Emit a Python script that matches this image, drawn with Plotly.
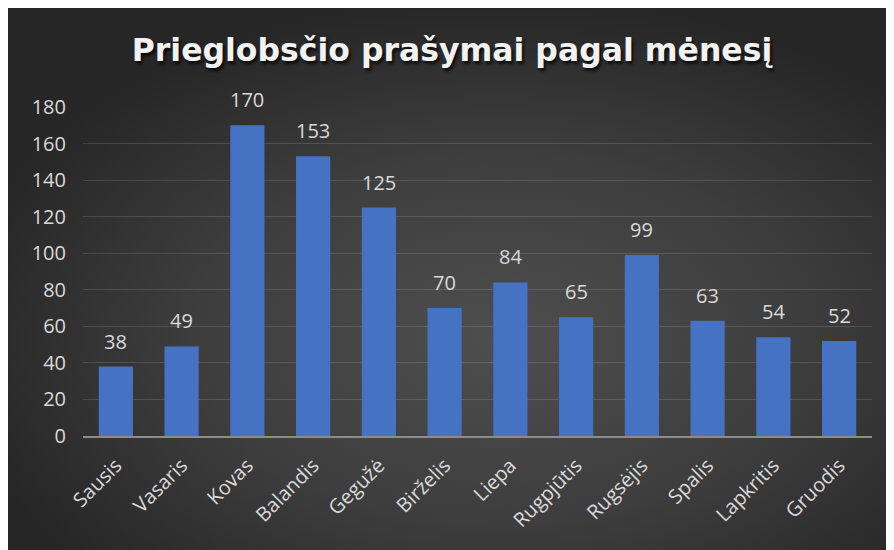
import base64
import plotly.graph_objects as go

months = ["Sausis", "Vasaris", "Kovas", "Balandis", "Gegužė", "Birželis",
          "Liepa", "Rugpjūtis", "Rugsėjis", "Spalis", "Lapkritis", "Gruodis"]
requests = [38, 49, 170, 153, 125, 70, 84, 65, 99, 63, 54, 52]
y_ticks = [0, 20, 40, 60, 80, 100, 120, 140, 160, 180]
title_text = "Prieglobsčio prašymai pagal mėnesį"

W, H = 894, 550
ML, MR, MT, MB = 75, 30, 99, 122
pw = W - ML - MR
ph = H - MT - MB

# dark radial gradient background (Excel style) as an inline SVG image
svg = f'''<svg xmlns="http://www.w3.org/2000/svg" width="{W}" height="{H}" viewBox="0 0 {W} {H}" preserveAspectRatio="none">
<defs><radialGradient id="g" cx="0.55" cy="0.6" r="0.62" gradientUnits="objectBoundingBox">
<stop offset="0" stop-color="#4e4e4e"/><stop offset="0.55" stop-color="#3d3d3d"/><stop offset="1" stop-color="#262626"/>
</radialGradient></defs>
<rect x="0" y="0" width="{W}" height="{H}" fill="url(#g)"/></svg>'''
src = "data:image/svg+xml;base64," + base64.b64encode(svg.encode()).decode()

fig = go.Figure()
fig.add_trace(go.Bar(
    x=months, y=requests,
    marker=dict(color="#4672c4", line=dict(width=0)),
    hoverinfo="x+y",
))

for m, v in zip(months, requests):
    fig.add_annotation(x=m, y=v, text=str(v), showarrow=False, yanchor="bottom",
                       yshift=10, font=dict(family="Open Sans", size=20, color="#d9d9d9"))

fig.add_layout_image(dict(
    source=src, xref="paper", yref="paper",
    x=-ML / pw, y=1 + MT / ph,
    sizex=W / pw, sizey=H / ph,
    xanchor="left", yanchor="top", sizing="stretch", layer="below",
))

fig.update_layout(
    width=W, height=H,
    margin=dict(l=ML, r=MR, t=MT, b=MB),
    paper_bgcolor="#2a2a2a", plot_bgcolor="rgba(0,0,0,0)",
    bargap=0.48, showlegend=False,
    title=dict(text=title_text, x=444 / W, xanchor="center", y=1 - 42 / H, yanchor="middle",
               font=dict(family="DejaVu Sans", size=31.5, color="#f2f2f2", weight="bold",
                         shadow="2px 3px 3px rgba(0,0,0,0.7)")),
    xaxis=dict(tickangle=-45, tickfont=dict(family="Open Sans", size=20, color="#d9d9d9"),
               showline=True, linecolor="#8c8c8c", linewidth=2, showgrid=False,
               ticks="", ticklabelstandoff=8),
    yaxis=dict(range=[0, 180], tickvals=y_ticks, showline=False, zeroline=False,
               gridcolor="rgba(255,255,255,0.13)", gridwidth=1,
               tickfont=dict(family="Open Sans", size=20, color="#d9d9d9"),
               ticks="", ticklabelstandoff=16),
)

fig.write_html("out.html")
